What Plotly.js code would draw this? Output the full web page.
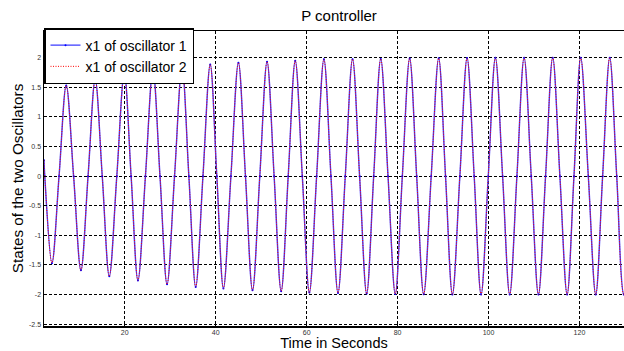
<!DOCTYPE html>
<html>
<head>
<meta charset="utf-8">
<script src="https://cdn.plot.ly/plotly-3.0.1.min.js"></script>
<style>html,body{margin:0;padding:0;background:#fff;}#chart{width:624px;height:351px;}</style>
</head>
<body>
<div id="chart"></div>
<script>
// Time samples (s): start, troughs, zero crossings and peaks
const timeSec = [
  2.24, 2.41, 3.98, 5.55, 7.13, 8.75, 10.36, 11.93, 13.5, 15.05,
  16.6, 18.25, 19.9, 21.4, 22.9, 24.55, 26.2, 27.75, 29.3, 30.95,
  32.6, 34.1, 35.6, 37.2, 38.8, 40.25, 41.7, 43.35, 45.0, 46.55,
  48.1, 49.7, 51.3, 52.85, 54.4, 55.95, 57.5, 59.05, 60.6, 62.2,
  63.8, 65.35, 66.9, 68.5, 70.1, 71.65, 73.2, 74.75, 76.3, 77.9,
  79.5, 81.05, 82.66, 84.2, 85.74, 87.4, 89.04, 90.55, 92.06, 93.7,
  95.29, 96.85, 98.37, 99.95, 101.52, 103.1, 104.66, 106.25, 107.83, 109.4,
  110.98, 112.55, 114.12, 115.7, 117.29, 118.8, 120.28, 121.95, 123.58, 125.1,
  126.66, 128.2, 129.75, 130.0
];
// x1 of oscillator 1
const x1Osc1 = [
  0.27, 0, -1.47, 0, 1.53, 0, -1.59, 0, 1.63, 0,
  -1.69, 0, 1.735, 0, -1.76, 0, 1.79, 0, -1.825, 0,
  1.845, 0, -1.87, 0, 1.885, 0, -1.895, 0, 1.915, 0,
  -1.927, 0, 1.932, 0, -1.944, 0, 1.949, 0, -1.966, 0,
  1.972, 0, -1.972, 0, 1.975, 0, -1.983, 0, 1.978, 0,
  -1.99, 0, 1.985, 0, -1.995, 0, 1.99, 0, -1.998, 0,
  1.995, 0, -2.0, 0, 1.998, 0, -2.0, 0, 2.0, 0,
  -2.0, 0, 2.0, 0, -2.0, 0, 2.0, 0, -2.0, 0,
  2.0, 0, -2.0, -1.99
];
// x1 of oscillator 2 (coincides with oscillator 1 in the picture)
const x1Osc2 = x1Osc1.slice();

const xTickVals = [20, 40, 60, 80, 100, 120];
const xTickText = ['20', '40', '60', '80', '100', '120'];
const yTickVals = [-2.5, -2, -1.5, -1, -0.5, 0, 0.5, 1, 1.5, 2];
const yTickText = ['-2.5', '-2', '-1.5', '-1', '-0.5', '0', '0.5', '1', '1.5', '2'];

const FONT = 'Liberation Sans, Arial, sans-serif';

const traces = [
  {
    x: timeSec, y: x1Osc1, name: 'x1 of oscillator 1', type: 'scatter',
    mode: 'lines+markers',
    line: {color: '#3b3bff', width: 1.4, shape: 'spline', smoothing: 1},
    marker: {color: '#0000ff', size: 2}
  },
  {
    x: timeSec, y: x1Osc2, name: 'x1 of oscillator 2', type: 'scatter',
    mode: 'lines',
    line: {color: '#ff0000', width: 1, dash: '1px,1.5px', shape: 'spline', smoothing: 1}
  }
];

const gridStyle = {showgrid: true, gridcolor: '#000', gridwidth: 1, griddash: '3px,2px', zeroline: false};

const layout = {
  width: 624, height: 351,
  margin: {l: 44, r: 0, t: 31, b: 25, pad: 0},
  paper_bgcolor: '#fff', plot_bgcolor: '#fff',
  font: {family: FONT, color: '#000'},
  title: {
    text: 'P controller', font: {family: FONT, size: 15, color: '#000'},
    x: 339 / 624, xref: 'container', xanchor: 'center',
    y: 1 - 16 / 351, yref: 'container', yanchor: 'middle'
  },
  xaxis: Object.assign({
    range: [2.24, 129.8], tickvals: xTickVals, ticktext: xTickText,
    ticks: 'inside', ticklen: 3, tickcolor: '#000',
    showline: true, linecolor: '#000', linewidth: 1.5, mirror: 'ticks',
    tickfont: {family: FONT, size: 7, color: '#333'},
    ticklabelstandoff: -1,
    title: {text: 'Time in Seconds', font: {family: FONT, size: 14.5, color: '#000'}, standoff: 6}
  }, gridStyle),
  yaxis: Object.assign({
    range: [-2.53, 2.45], tickvals: yTickVals, ticktext: yTickText,
    ticks: 'inside', ticklen: 3, tickcolor: '#000',
    showline: true, linecolor: '#000', linewidth: 1.5,
    tickfont: {family: FONT, size: 7, color: '#333'},
    title: {text: 'States of the two Oscillators', font: {family: FONT, size: 15.3, color: '#000'}, standoff: 1}
  }, gridStyle),
  showlegend: true,
  legend: {
    x: 0, y: 1.01, xanchor: 'left', yanchor: 'top',
    bgcolor: '#fff', bordercolor: '#000', borderwidth: 1.5,
    font: {family: FONT, size: 14, color: '#000'},
    itemwidth: 30, tracegroupgap: 0
  }
};

Plotly.newPlot('chart', traces, layout, {staticPlot: true, displayModeBar: false});
</script>
</body>
</html>
